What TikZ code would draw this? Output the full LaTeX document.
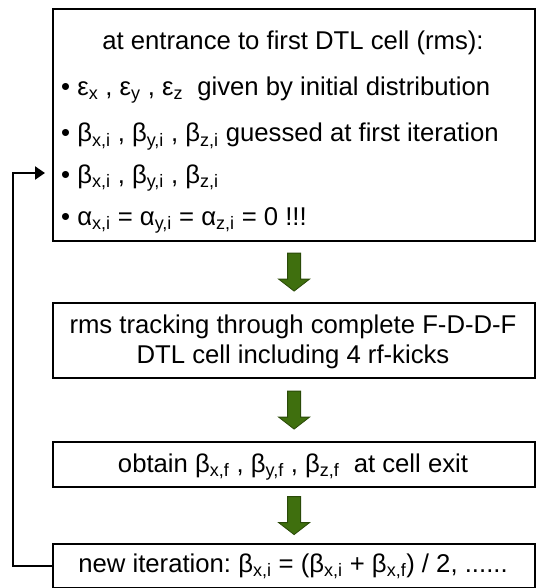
\documentclass[tikz,border=0pt]{standalone}
\usepackage{fontspec}
\setmainfont{Liberation Sans}
\usetikzlibrary{arrows.meta,calc}
\frenchspacing
\newcommand\sbs[1]{\textsubscript{#1}}
\newcommand\greenarrow[1]{%
  \filldraw[garrow] ([xshift=-6.5pt,yshift=19pt]#1) -- ([xshift=6.5pt,yshift=19pt]#1)
    -- ([xshift=6.5pt,yshift=-7pt]#1) -- ([xshift=15.5pt,yshift=-7pt]#1)
    -- ([yshift=-19pt]#1) -- ([xshift=-15.5pt,yshift=-7pt]#1)
    -- ([xshift=-6.5pt,yshift=-7pt]#1) -- cycle;}
\definecolor{gfill}{HTML}{3F6F0E}
\definecolor{gline}{HTML}{2A4A08}
\begin{document}
\begin{tikzpicture}[
  box/.style={draw=black, line width=2.2pt, rectangle, inner sep=0pt, anchor=north west, minimum width=482pt},
  txt/.style={inner sep=0pt, font=\fontsize{25.7}{30}\selectfont},
  garrow/.style={fill=gfill, draw=gline, line width=0.8pt, line join=miter},
  loopline/.style={draw=black, line width=2.2pt, -{Triangle[length=10pt,width=13pt]}, shorten >=7pt}
]
\useasboundingbox (0,0) rectangle (535pt,-588pt);
% boxes
\node[box, minimum height=232pt] (b1) at (52pt,-8pt) {};
\node[box, minimum height=75pt] (b2) at (52pt,-302pt) {};
\node[box, minimum height=45pt] (b3) at (52pt,-441pt) {};
\node[box, minimum height=44pt] (b4) at (52pt,-543pt) {};
% box 1 text
\node[txt, anchor=base] (t0) at (293pt,-50pt) {at entrance to first DTL cell (rms):};
\node[txt, anchor=base west] (t1) at (61pt,-96pt) {• ε\sbs{x} , ε\sbs{y} , ε\sbs{z} \ given by initial distribution};
\node[txt, anchor=base west] (t2) at (61pt,-142pt) {• β\sbs{x,i} , β\sbs{y,i} , β\sbs{z,i} guessed at first iteration};
\node[txt, anchor=base west] (t3) at (61pt,-183pt) {• β\sbs{x,i} , β\sbs{y,i} , β\sbs{z,i}};
\node[txt, anchor=base west] (t4) at (61pt,-225pt) {• α\sbs{x,i} = α\sbs{y,i} = α\sbs{z,i} = 0 !!!};
% box 2 text
\node[txt, anchor=base] (t5) at (293pt,-333pt) {rms tracking through complete F-D-D-F};
\node[txt, anchor=base] (t6) at (293pt,-363pt) {DTL cell including 4 rf-kicks};
% box 3 text
\node[txt, anchor=base] (t7) at (293pt,-472pt) {obtain β\sbs{x,f} , β\sbs{y,f} , β\sbs{z,f} \ at cell exit};
% box 4 text
\node[txt, anchor=base] (t8) at (293pt,-572pt) {new iteration: β\sbs{x,i} = (β\sbs{x,i} + β\sbs{x,f}) / 2, ......};
% green arrows
\coordinate (m1) at ($(b1.south)!0.5!(b2.north)$);
\coordinate (m2) at ($(b2.south)!0.5!(b3.north)$);
\coordinate (m3) at ($(b3.south)!0.5!(b4.north)$);
\greenarrow{m1}
\greenarrow{m2}
\greenarrow{m3}
% feedback loop
\coordinate (turn) at (13pt,-173pt);
\draw[loopline] (b4.west) -| (turn) -- (turn -| b1.west);
\end{tikzpicture}
\end{document}
